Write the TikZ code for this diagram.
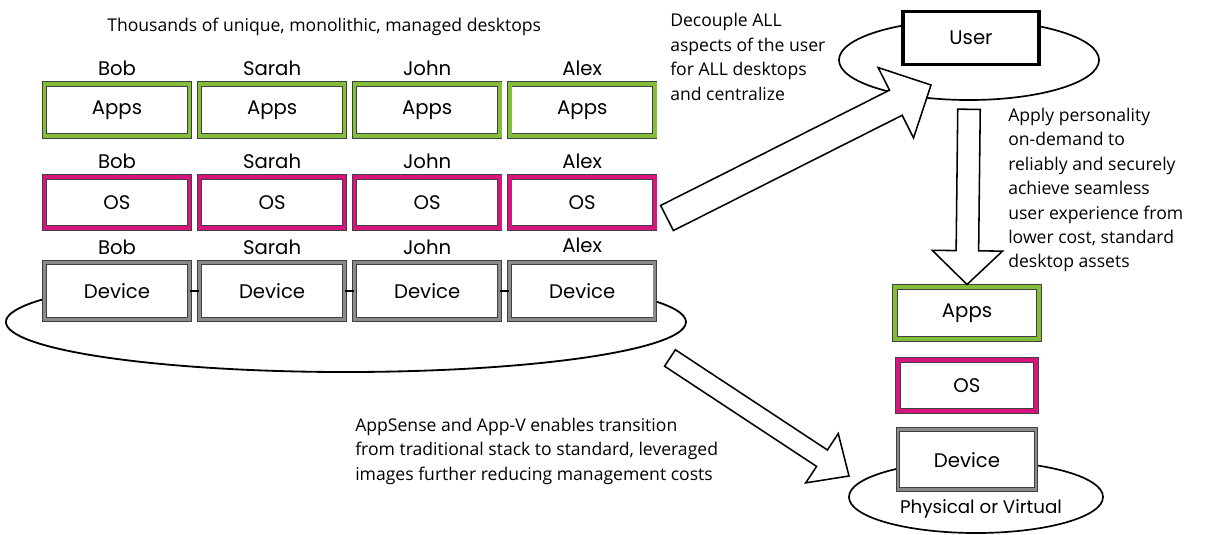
\documentclass[tikz,border=0pt]{standalone}
\usepackage{fontspec}
\setmainfont{Open Sans}
\newfontfamily\sketchfont{Poppins}
\usetikzlibrary{
		calc,
		positioning,
		shapes.geometric
	}
\definecolor{appgreen}{HTML}{84BD3A}
\definecolor{ospink}{HTML}{D8157E}
\definecolor{devgray}{HTML}{8A8A8A}
\tikzset{
		>=stealth
	}
% hollow block arrow from #1 to #2: shaft half width, head half width, head length
\newcommand{\fatarrow}[5]{%
	\coordinate (fatbase) at ($(#2)!#5!(#1)$);
	\draw[fat] ($(#1)!#3!90:(#2)$) -- ($(fatbase)!#3!90:(#2)$) -- ($(fatbase)!#4!90:(#2)$) -- (#2) -- ($(fatbase)!#4!-90:(#2)$) -- ($(fatbase)!#3!-90:(#2)$) -- ($(#1)!#3!-90:(#2)$) -- cycle;}

\begin{document}
\begin{tikzpicture}[x=0.025cm,y=-0.025cm,node distance=2.3mm]
	\tikzstyle{layer}=[rectangle, fill=white, minimum width=3.625cm, minimum height=1.3cm, font=\sketchfont\fontsize{14}{16}\selectfont, line width=0.6pt, double distance=2.6pt, draw=black!75]
	\tikzstyle{apps}=[layer, double=appgreen]
	\tikzstyle{os}=[layer, double=ospink, minimum height=1.275cm]
	\tikzstyle{device}=[layer, double=devgray, double distance=2pt, minimum height=1.425cm]
	\tikzstyle{who}=[inner sep=0pt, font=\sketchfont\fontsize{14}{16}\selectfont]
	\tikzstyle{note}=[align=left, inner sep=0pt, font=\fontsize{12.5}{17.4}\selectfont]
	\tikzstyle{disk}=[ellipse, draw, line width=1.2pt, fill=white]
	\tikzstyle{fat}=[draw, line width=1.1pt, fill=white, line join=miter]
	\tikzstyle{rim}=[line width=1.6pt]
	\useasboundingbox (0,0) rectangle (1206,534);
	% Title
	\node[note, anchor=west] (title) at (107,27) {Thousands of unique, monolithic, managed desktops};
	% Apps and OS rows
	\node[apps] (a1) at (117,110)    {Apps};
	\node[apps] (a2) [right=of a1]   {Apps};
	\node[apps] (a3) [right=of a2]   {Apps};
	\node[apps] (a4) [right=of a3]   {Apps};
	\node[os]   (o1) [below=1.0cm of a1] {OS};
	\node[os]   (o2) [right=of o1]   {OS};
	\node[os]   (o3) [right=of o2]   {OS};
	\node[os]   (o4) [right=of o3]   {OS};
	% Desktop disk, then Device row on top of it
	\draw[line width=1.3pt] (346,322) ++(208.4:340 and 50) arc[start angle=208.4, end angle=-28.4, x radius=340, y radius=50];
	\node[device] (d1) [below=0.85cm of o1] {Device};
	\node[device] (d2) [right=of d1] {Device};
	\node[device] (d3) [right=of d2] {Device};
	\node[device] (d4) [right=of d3] {Device};
	\draw[rim] (d1) -- (d2) (d2) -- (d3) (d3) -- (d4);
	% Names
	\node[who] (na1) [above=1.9mm of a1] {Bob};
	\node[who] (na2) [above=1.9mm of a2] {Sarah};
	\node[who] (na3) [above=1.9mm of a3] {John};
	\node[who] (na4) [above=1.9mm of a4] {Alex};
	\node[who] (no1) [above=1.9mm of o1] {Bob};
	\node[who] (no2) [above=1.9mm of o2] {Sarah};
	\node[who] (no3) [above=1.9mm of o3] {John};
	\node[who] (no4) [above=1.9mm of o4] {Alex};
	\node[who] (nd1) [above=1.9mm of d1] {Bob};
	\node[who] (nd2) [above=1.9mm of d2] {Sarah};
	\node[who] (nd3) [above=1.9mm of d3] {John};
	\node[who] (nd4) [above=2.4mm of d4] {Alex};
	% User
	\node[disk, minimum width=6.5cm, minimum height=2cm] (udisk) at (969,60) {};
	\node[draw, line width=2.5pt, fill=white, minimum width=3.4cm, minimum height=1.33cm, font=\sketchfont\fontsize{14}{16}\selectfont] (user) at (971,38) {User};
	% Standard stack
	\node[apps, minimum width=3.6cm] (ra) at (967,313) {Apps};
	\node[os, minimum width=3.45cm] (ro) [below=0.5cm of ra] {OS};
	\node[disk, minimum width=6.35cm, minimum height=1.8cm] (pdisk) at (976,497) {};
	\node[device, minimum width=3.45cm, minimum height=1.5cm] (rd) [below=0.45cm of ro] {Device};
	\node[who, font=\sketchfont\fontsize{13}{15}\selectfont] (pv) at (981,509) {Physical or Virtual};
	% Notes
	\node[note, anchor=west] (decouple) at (670,57) {Decouple ALL\\aspects of the user\\for ALL desktops\\and centralize};
	\node[note, anchor=west] (apply) at (1008,190) {Apply personality\\on-demand to\\reliably and securely\\achieve seamless\\user experience from\\lower cost, standard\\desktop assets};
	\node[note, anchor=west] (appsense) at (355,451) {AppSense and App-V enables transition\\from traditional stack to standard, leveraged\\images further reducing management costs};
	% Arrows
	\coordinate (upTail) at (667,218);
	\coordinate (upTip) at (931,85);
	\fatarrow{upTail}{upTip}{10pt}{28pt}{28pt}
	\coordinate (downTail) at ([yshift=-6pt]udisk.south);
	\coordinate (downTip) at ([yshift=1.5pt]ra.north);
	\fatarrow{downTail}{downTip}{8pt}{25pt}{24pt}
	\coordinate (lowTail) at (670,358);
	\coordinate (lowTip) at (849,476);
	\fatarrow{lowTail}{lowTip}{7pt}{21pt}{23pt}
\end{tikzpicture}
\end{document}
